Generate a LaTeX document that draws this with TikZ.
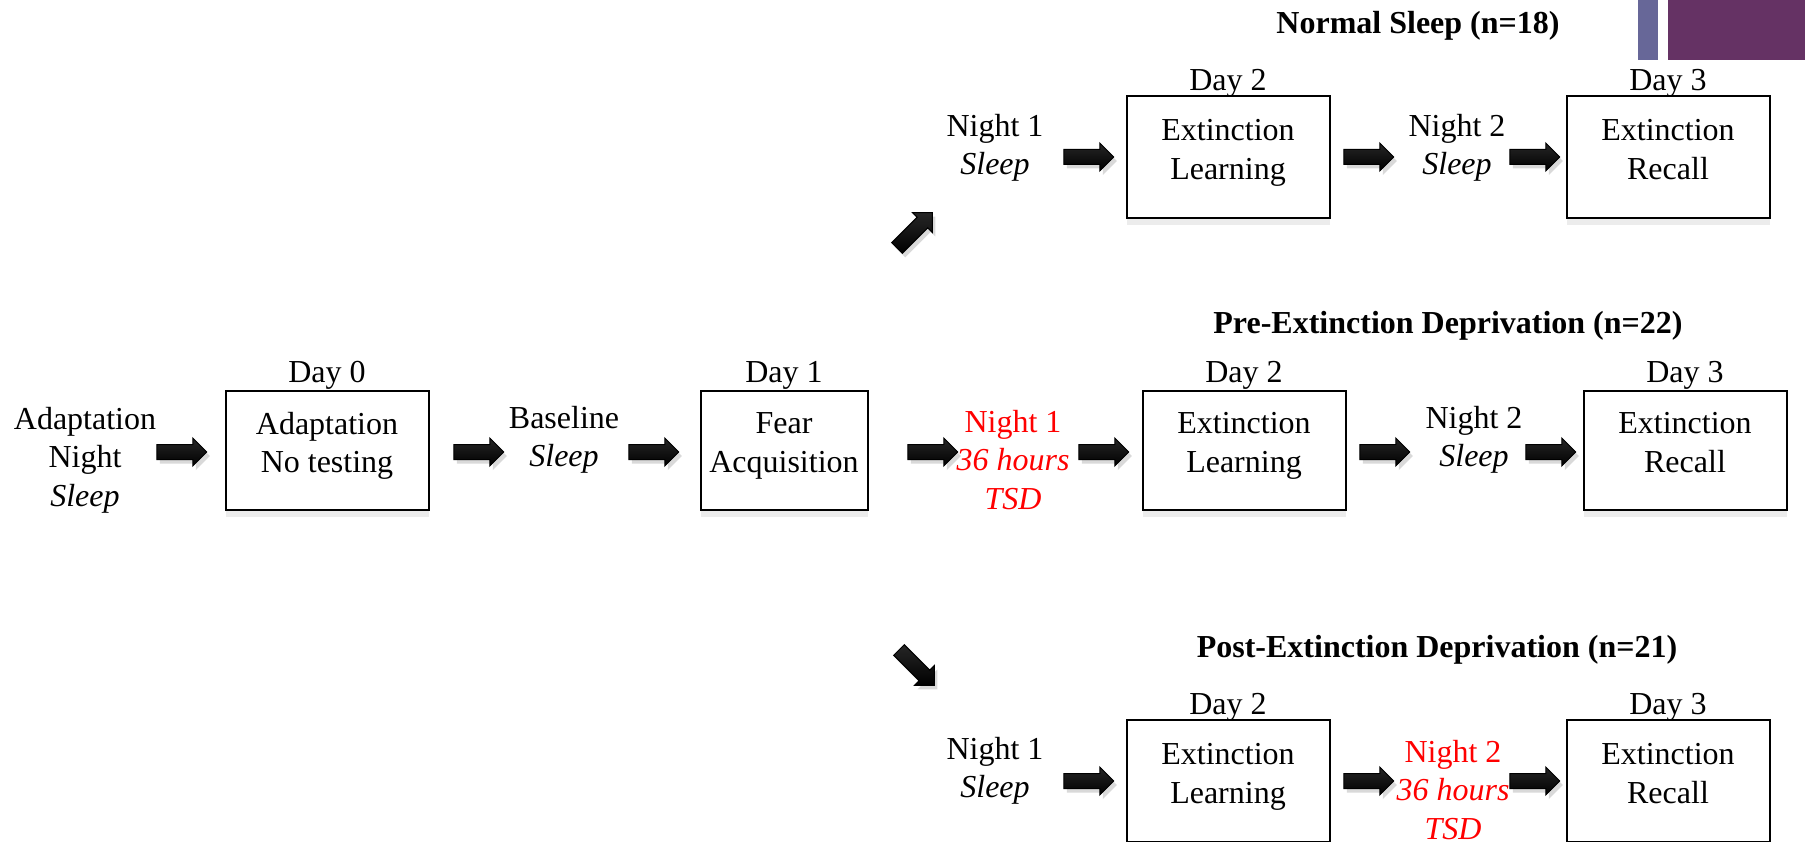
\documentclass[tikz,border=0pt]{standalone}
\usepackage{fontspec}
\setmainfont{Liberation Serif}
\usetikzlibrary{shapes.arrows,shadows}
\definecolor{barblue}{RGB}{103,103,152}
\definecolor{barplum}{RGB}{101,50,100}
\tikzset{
  boxbase/.style={draw,line width=2pt,fill=white,minimum height=119pt,minimum width=203pt,
    inner sep=0pt,align=center,font=\fontsize{32}{38.5}\selectfont,text depth=15pt,
    drop shadow={opacity=.15,shadow xshift=0pt,shadow yshift=-7pt},label distance=0pt},
  box/.style={boxbase,label={[day]above:#1}},
  tbox/.style={boxbase,minimum height=122pt,label={[day,yshift=-3pt]above:#1}},
  day/.style={inner sep=0pt,font=\fontsize{32}{38.5}\selectfont},
  txt/.style={align=center,inner sep=0pt,font=\fontsize{32}{38.5}\selectfont},
  tsd/.style={txt,text=red},
  title/.style={inner sep=0pt,font=\fontsize{32}{38.5}\selectfont\bfseries},
  blk/.style={single arrow,draw=black,line width=1pt,minimum height=50pt,minimum width=27pt,
    single arrow head extend=6.5pt,inner xsep=0pt,inner ysep=7pt,
    top color=black!85,middle color=gray!80,bottom color=black,
    drop shadow={opacity=.3,shadow xshift=3pt,shadow yshift=-4pt}}
}

\begin{document}
\begin{tikzpicture}[x=1pt,y=-1pt]
%\draw[help lines,step=50](0,0)grid(1805,842);
\useasboundingbox (0,0) rectangle (1805,842);
\fill[barblue] (1638,0) rectangle (1658,60);
\fill[barplum] (1668,0) rectangle (1805,60);

% normal sleep
\node[title] (tns) at (1418,26) {Normal Sleep (n=18)};
\node[txt] (ns1) at (995,148) {Night 1\\\textit{Sleep}};
\node[blk] (nsa1) at (1085,157) {};
\node[tbox=Day 2] (ns2) at (1228,157) {Extinction\\Learning};
\node[blk] (nsa2) at (1365,157) {};
\node[txt] (ns3) at (1457,148) {Night 2\\\textit{Sleep}};
\node[blk] (nsa3) at (1531,157) {};
\node[tbox=Day 3] (ns4) at (1668,157) {Extinction\\Recall};
\node[blk,rotate=45] (up) at (912,233) {};

% pre-extinction
\node[title] (tpe) at (1448,326) {Pre-Extinction Deprivation (n=22)};
\node[txt] (ad) at (85,460) {Adaptation\\Night\\\textit{Sleep}};
\node[blk] (a1) at (178,452) {};
\node[box=Day 0] (d0) at (327,450) {Adaptation\\No testing};
\node[blk] (a2) at (475,452) {};
\node[txt] (bl) at (564,440) {Baseline\\\textit{Sleep}};
\node[blk] (a3) at (650,452) {};
\node[box=Day 1,minimum width=167pt] (d1) at (784,450) {Fear\\Acquisition};
\node[blk] (a4) at (929,452) {};
\node[tsd] (pe1) at (1013,460) {Night 1\\\textit{36 hours}\\\textit{TSD}};
\node[blk] (a5) at (1100,452) {};
\node[box=Day 2] (pe2) at (1244,450) {Extinction\\Learning};
\node[blk] (a6) at (1381,452) {};
\node[txt] (pe3) at (1474,440) {Night 2\\\textit{Sleep}};
\node[blk] (a7) at (1547,452) {};
\node[box=Day 3] (pe4) at (1685,450) {Extinction\\Recall};

% post-extinction
\node[blk,rotate=-45] (down) at (914,665) {};
\node[title] (tpo) at (1437,650) {Post-Extinction Deprivation (n=21)};
\node[txt] (po1) at (995,771) {Night 1\\\textit{Sleep}};
\node[blk] (poa1) at (1085,781) {};
\node[tbox=Day 2] (po2) at (1228,781) {Extinction\\Learning};
\node[blk] (poa2) at (1365,781) {};
\node[tsd] (po3) at (1453,790) {Night 2\\\textit{36 hours}\\\textit{TSD}};
\node[blk] (poa3) at (1531,781) {};
\node[tbox=Day 3] (po4) at (1668,781) {Extinction\\Recall};
\end{tikzpicture}
\end{document}
